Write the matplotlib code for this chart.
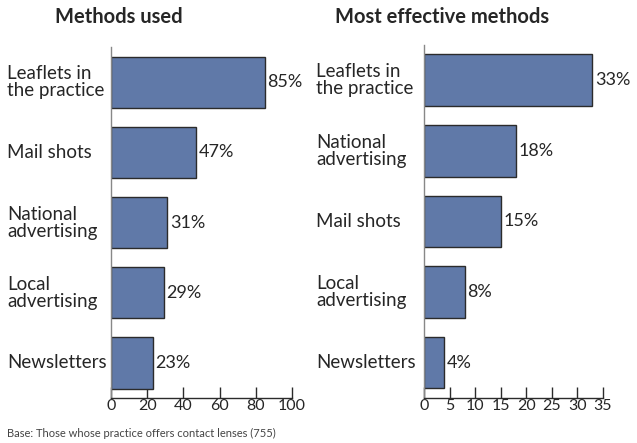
import matplotlib.pyplot as plt
import numpy as np

# Survey results: methods used and those rated most effective
used_labels = ["Leaflets in\nthe practice", "Mail shots", "National\nadvertising",
               "Local\nadvertising", "Newsletters"]
used_values = [85, 47, 31, 29, 23]

effective_labels = ["Leaflets in\nthe practice", "National\nadvertising", "Mail shots",
                    "Local\nadvertising", "Newsletters"]
effective_values = [33, 18, 15, 8, 4]

used_ticks = [0, 20, 40, 60, 80, 100]
effective_ticks = [0, 5, 10, 15, 20, 25, 30, 35]

plt.rcParams["font.family"] = ["Lato", "DejaVu Sans"]

BAR_COLOR = "#6079a8"
EDGE_COLOR = "#2b2b2b"
TEXT_COLOR = "#262626"

fig = plt.figure(figsize=(6.37, 4.43), dpi=100)


def draw_panel(rect, labels, values, ticks, title, label_x, title_x):
    ax = fig.add_axes(rect)
    y = np.arange(len(values))
    ax.barh(y, values, height=0.73, color=BAR_COLOR, edgecolor=EDGE_COLOR,
            linewidth=1.0, zorder=2)
    ax.set_ylim(len(values) - 0.5, -0.5)
    ax.set_xlim(ticks[0], ticks[-1])
    ax.set_xticks(ticks)
    ax.set_yticks([])
    for s in ("top", "right"):
        ax.spines[s].set_visible(False)
    ax.spines["left"].set_color("#888888")
    ax.spines["left"].set_linewidth(1.0)
    ax.spines["bottom"].set_color(EDGE_COLOR)
    ax.spines["bottom"].set_linewidth(1.0)
    ax.tick_params(axis="x", direction="in", length=8, width=1.0,
                   color=EDGE_COLOR, labelsize=11.5, labelcolor=TEXT_COLOR, pad=1)

    span = ticks[-1] - ticks[0]
    for yi, v, lab in zip(y, values, labels):
        ax.text(v + span * 0.015, yi, f"{v}%", va="center", ha="left",
                fontsize=13, color=TEXT_COLOR)
        ax.text(label_x, yi, lab, va="center", ha="left", fontsize=13.5,
                color=TEXT_COLOR, linespacing=1.0,
                transform=ax.get_yaxis_transform())

    fig.text(title_x, 0.962, title, fontsize=14.5, fontweight="bold",
             color=TEXT_COLOR, ha="left", va="center")
    return ax


draw_panel([0.1743, 0.1016, 0.2841, 0.792], used_labels, used_values,
           used_ticks, "Methods used", -0.575, 0.0863)
draw_panel([0.6656, 0.1016, 0.2805, 0.797], effective_labels, effective_values,
           effective_ticks, "Most effective methods", -0.605, 0.526)

fig.text(0.011, 0.022, "Base: Those whose practice offers contact lenses (755)",
         fontsize=8, color="#444444", ha="left", va="center")

fig.savefig("out.png", dpi=100)
